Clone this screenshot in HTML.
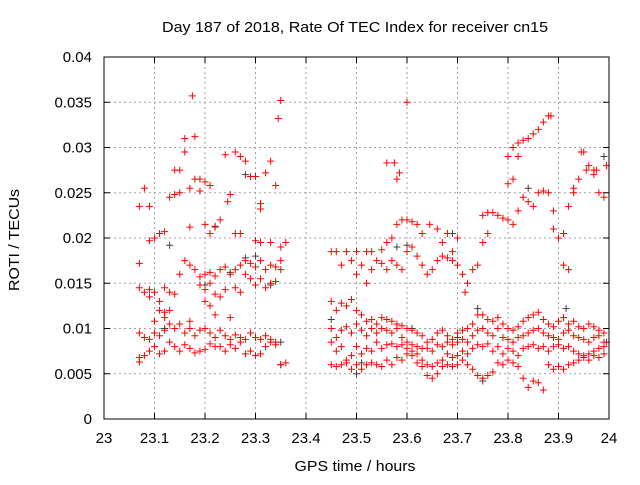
<!DOCTYPE html>
<html><head><meta charset="utf-8"><style>
body{margin:0;background:#fff;}
svg text{font-family:"Liberation Sans",sans-serif;font-size:15px;fill:#000;}
</style></head><body>
<svg id="chart" width="640" height="480">
<text x="355" y="32" text-anchor="middle" textLength="386" lengthAdjust="spacingAndGlyphs">Day 187 of 2018, Rate Of TEC Index for receiver cn15</text>
<g id="grid"></g><g id="ticks"></g><g id="marks"></g>
<rect x="104" y="57" width="505" height="362" fill="none" stroke="#000" stroke-width="1"/>
<text x="355" y="471" text-anchor="middle" textLength="121" lengthAdjust="spacingAndGlyphs">GPS time / hours</text>
<text transform="translate(19,240) rotate(-90)" text-anchor="middle" textLength="102" lengthAdjust="spacingAndGlyphs">ROTI / TECUs</text>
</svg>
<script>
const xTicks=[23,23.1,23.2,23.3,23.4,23.5,23.6,23.7,23.8,23.9,24];
const xTickLabels=["23","23.1","23.2","23.3","23.4","23.5","23.6","23.7","23.8","23.9","24"];
const yTicks=[0,0.005,0.01,0.015,0.02,0.025,0.03,0.035,0.04];
const yTickLabels=["0","0.005","0.01","0.015","0.02","0.025","0.03","0.035","0.04"];
const redA=[[23.07,0.0235],[23.08,0.0255],[23.09,0.0235],[23.07,0.0172],[23.09,0.0197],[23.10,0.0200],[23.11,0.0205],[23.12,0.0207],[23.13,0.0245],[23.14,0.0275],[23.14,0.0248],[23.15,0.0275],[23.15,0.0250],[23.16,0.0295],[23.16,0.031],[23.17,0.0212],[23.17,0.0255],[23.18,0.0312],[23.18,0.0265],[23.175,0.0357],[23.19,0.0265],[23.19,0.0252],[23.20,0.0262],[23.20,0.0215],[23.21,0.0258],[23.21,0.0205],[23.22,0.0212],[23.23,0.0220],[23.24,0.0292],[23.245,0.0240],[23.25,0.0248],[23.26,0.0295],[23.26,0.0205],[23.27,0.0290],[23.27,0.0205],[23.28,0.0285],[23.29,0.0268],[23.30,0.0268],[23.31,0.0232],[23.31,0.0238],[23.32,0.0272],[23.33,0.0285],[23.34,0.0258],[23.345,0.0332],[23.35,0.0352],[23.30,0.0197],[23.31,0.0195],[23.33,0.0195],[23.35,0.0190],[23.36,0.0195]];
const redB=[[23.07,0.0145],[23.08,0.0140],[23.09,0.0143],[23.09,0.0135],[23.10,0.0140],[23.11,0.0130],[23.12,0.0145],[23.13,0.0140],[23.14,0.0138],[23.15,0.0160],[23.16,0.0175],[23.17,0.0170],[23.18,0.0165],[23.19,0.0157],[23.20,0.0160],[23.21,0.0162],[23.22,0.0158],[23.23,0.0165],[23.24,0.0168],[23.25,0.0160],[23.26,0.0165],[23.27,0.0170],[23.28,0.0175],[23.29,0.0172],[23.30,0.0168],[23.31,0.0175],[23.32,0.0165],[23.33,0.0170],[23.34,0.0168],[23.35,0.0165],[23.35,0.0175],[23.19,0.0148],[23.20,0.0143],[23.21,0.0150],[23.22,0.0138],[23.23,0.0135],[23.24,0.0143],[23.26,0.0145],[23.27,0.0140],[23.28,0.0160],[23.29,0.0155],[23.30,0.0148],[23.31,0.0155],[23.32,0.0145],[23.33,0.0150],[23.34,0.0152],[23.11,0.0120],[23.12,0.0118],[23.13,0.0120],[23.20,0.0130],[23.21,0.0125]];
const redC=[[23.07,0.0068],[23.07,0.0063],[23.08,0.0070],[23.09,0.0075],[23.10,0.0080],[23.11,0.0072],[23.12,0.0075],[23.13,0.0085],[23.14,0.0080],[23.15,0.0075],[23.16,0.0082],[23.17,0.0078],[23.18,0.0073],[23.19,0.0075],[23.20,0.0077],[23.21,0.0083],[23.22,0.0080],[23.23,0.0080],[23.24,0.0075],[23.25,0.0082],[23.26,0.0078],[23.27,0.0085],[23.28,0.0072],[23.29,0.0075],[23.30,0.0070],[23.31,0.0072],[23.32,0.0080],[23.33,0.0085],[23.34,0.0082],[23.35,0.0060],[23.36,0.0062],[23.08,0.0090],[23.09,0.0088],[23.10,0.0095],[23.11,0.0092],[23.12,0.0098],[23.13,0.0105],[23.14,0.0100],[23.15,0.0105],[23.16,0.0095],[23.17,0.0100],[23.18,0.0092],[23.19,0.0098],[23.20,0.0100],[23.21,0.0095],[23.22,0.0090],[23.23,0.0098],[23.24,0.0092],[23.25,0.0088],[23.26,0.0093],[23.27,0.0090],[23.28,0.0088],[23.29,0.0095],[23.30,0.0090],[23.31,0.0088],[23.32,0.0092],[23.33,0.0088],[23.34,0.0085],[23.07,0.0095],[23.10,0.0108],[23.12,0.0112],[23.17,0.0108],[23.22,0.0115],[23.25,0.0112]];
const redD=[[23.56,0.0283],[23.575,0.0283],[23.58,0.0265],[23.585,0.0272],[23.60,0.0350],[23.50,0.0185],[23.52,0.0185],[23.53,0.0185],[23.55,0.0187],[23.56,0.0195],[23.57,0.0200],[23.58,0.0215],[23.59,0.0220],[23.60,0.0220],[23.61,0.0218],[23.62,0.0215],[23.63,0.0205],[23.645,0.0215],[23.66,0.0210],[23.67,0.0195],[23.68,0.0205],[23.69,0.0185],[23.70,0.0200],[23.45,0.0185],[23.46,0.0185],[23.47,0.0170],[23.48,0.0185],[23.49,0.0175],[23.50,0.0160],[23.51,0.0170],[23.52,0.0150],[23.53,0.0165],[23.54,0.0175],[23.55,0.0172],[23.56,0.0165],[23.57,0.0175],[23.58,0.0170],[23.59,0.0165],[23.60,0.0185],[23.61,0.0190],[23.62,0.0180],[23.63,0.0170],[23.64,0.0160],[23.65,0.0165],[23.66,0.0175],[23.67,0.0180],[23.68,0.0178],[23.69,0.0175],[23.70,0.0170],[23.71,0.0160],[23.715,0.0140],[23.72,0.0150],[23.73,0.0165],[23.74,0.0170],[23.75,0.0195],[23.76,0.0205],[23.75,0.0225],[23.76,0.0228],[23.77,0.0228],[23.78,0.0225],[23.79,0.0222],[23.80,0.0290],[23.81,0.0300],[23.82,0.0305],[23.83,0.0308],[23.84,0.0310],[23.85,0.0315],[23.86,0.0320],[23.87,0.0328],[23.88,0.0335],[23.885,0.0335],[23.80,0.0260],[23.81,0.0265],[23.82,0.0290],[23.80,0.0220],[23.81,0.0215],[23.82,0.0230],[23.83,0.0245],[23.84,0.0240],[23.85,0.0235],[23.86,0.0250],[23.87,0.0252],[23.88,0.0250],[23.89,0.0230],[23.89,0.0210],[23.90,0.0200],[23.91,0.0205],[23.91,0.0170],[23.92,0.0165],[23.92,0.0235],[23.93,0.0255],[23.94,0.0265],[23.945,0.0295],[23.95,0.0295],[23.955,0.0275],[23.96,0.0280],[23.97,0.0275],[23.975,0.0275],[23.98,0.0250],[23.99,0.0245],[23.995,0.0280],[23.93,0.0250],[23.97,0.0270]];
const lowX=[23.45,23.46,23.47,23.48,23.49,23.50,23.51,23.52,23.53,23.54,23.55,23.56,23.57,23.58,23.59,23.60,23.61,23.62,23.63,23.64,23.65,23.66,23.67,23.68,23.69,23.70,23.71,23.72,23.73,23.74,23.75,23.76,23.77,23.78,23.79,23.80,23.81,23.82,23.83,23.84,23.85,23.86,23.87,23.88,23.89,23.90,23.91,23.92,23.93,23.94,23.95,23.96,23.97,23.98,23.99];
const lowY=[[0.013,0.010,0.0085,0.006],[0.012,0.009,0.0075,0.0058],[0.0128,0.0098,0.008,0.006],[0.0125,0.0102,0.0065,0.0062],[0.0132,0.0095,0.007,0.0055],[0.0120,0.0105,0.008,0.006],[0.0115,0.0098,0.0072,0.0055],[0.0108,0.0092,0.0078,0.006],[0.0110,0.0100,0.0075,0.0062],[0.0105,0.0095,0.0085,0.006],[0.0112,0.0100,0.0078,0.0058],[0.0110,0.0098,0.0082,0.0065],[0.0108,0.0095,0.0083,0.006],[0.0105,0.0100,0.0080,0.0068],[0.0103,0.0090,0.0082,0.0065],[0.0100,0.0085,0.0078,0.0072],[0.0098,0.0082,0.0075,0.007],[0.0095,0.0080,0.0072,0.0062],[0.0092,0.0078,0.0065,0.0058],[0.0085,0.0078,0.006,0.0048],[0.0088,0.0075,0.0058,0.0045],[0.0095,0.0082,0.0062,0.005],[0.0098,0.0080,0.0065,0.0058],[0.0092,0.0085,0.0072,0.006],[0.0088,0.0082,0.0068,0.0058],[0.0095,0.0085,0.0070,0.006],[0.0098,0.0088,0.0075,0.0065],[0.0100,0.0085,0.0072,0.006],[0.0105,0.0092,0.0078,0.0055],[0.0115,0.0098,0.0082,0.0048],[0.0115,0.0100,0.0080,0.0045],[0.0110,0.0095,0.0083,0.0048],[0.0108,0.0092,0.0075,0.0052],[0.0112,0.0100,0.0080,0.0062],[0.0105,0.0090,0.0072,0.006],[0.0100,0.0088,0.0078,0.0065],[0.0098,0.0085,0.0075,0.0062],[0.0102,0.0090,0.0070,0.0058],[0.0108,0.0092,0.0078,0.0045],[0.0112,0.0095,0.0080,0.0035],[0.0115,0.0098,0.0082,0.0042],[0.0118,0.0100,0.0078,0.0040],[0.0110,0.0095,0.0080,0.0032],[0.0105,0.0092,0.0075,0.006],[0.0102,0.0090,0.0080,0.0055],[0.0108,0.0088,0.0082,0.0058],[0.0112,0.0095,0.0078,0.0055],[0.0105,0.0098,0.0080,0.006],[0.0108,0.0092,0.0075,0.0062],[0.0102,0.0090,0.0072,0.0065],[0.0100,0.0088,0.0070,0.0068],[0.0105,0.0085,0.0072,0.0065],[0.0102,0.0090,0.0075,0.007],[0.0098,0.0092,0.0078,0.0068],[0.0095,0.0085,0.0080,0.0072]];
const greyPts=[[23.13,0.0192],[23.20,0.0148],[23.22,0.0213],[23.28,0.0178],[23.30,0.0180],[23.28,0.0270],[23.35,0.0060],[23.35,0.0085],[23.45,0.0110],[23.50,0.0050],[23.51,0.0062],[23.58,0.0190],[23.60,0.0192],[23.61,0.0100],[23.69,0.0205],[23.70,0.0090],[23.74,0.0122],[23.75,0.0042],[23.84,0.0255],[23.91,0.0205],[23.915,0.0122],[23.99,0.0290],[23.995,0.0085],[23.12,0.0100],[23.25,0.0162],[23.33,0.0148]];

const X0=104,X1=609,Y0=419,Y1=57;
function sx(v){return X0+(v-23)*(X1-X0)/1;}
function sy(v){return Y0-v*(Y0-Y1)/0.04;}
const NS="http://www.w3.org/2000/svg";
function mk(tag,attrs,parent){const e=document.createElementNS(NS,tag);for(const k in attrs)e.setAttribute(k,attrs[k]);parent.appendChild(e);return e;}
const grid=document.getElementById('grid'),ticks=document.getElementById('ticks'),marks=document.getElementById('marks');
xTicks.forEach((t,i)=>{const x=sx(t);
 if(i>0&&i<xTicks.length-1){const g=mk('line',{x1:x,x2:x,y1:Y1,y2:Y0,stroke:'#a0a0a0','stroke-dasharray':'2,3'},grid);
 
 }
 mk('line',{x1:x,x2:x,y1:Y0,y2:Y0-6,stroke:'#000'},ticks);mk('line',{x1:x,x2:x,y1:Y1,y2:Y1+6,stroke:'#000'},ticks);
 const tx=mk('text',{x:x,y:443,'text-anchor':'middle'},ticks);tx.textContent=xTickLabels[i];
 
 });
yTicks.forEach((t,i)=>{const y=sy(t);
 if(i>0&&i<yTicks.length-1){const g=mk('line',{x1:X0,x2:X1,y1:y,y2:y,stroke:'#a0a0a0','stroke-dasharray':'2,3'},grid);
 
 }
 mk('line',{x1:X0,x2:X0+6,y1:y,y2:y,stroke:'#000'},ticks);mk('line',{x1:X1,x2:X1-6,y1:y,y2:y,stroke:'#000'},ticks);
 const tx=mk('text',{x:92,y:y+5,'text-anchor':'end'},ticks);tx.textContent=yTickLabels[i];
 
 });
function plus(x,y,col,name){const p=mk('path',{d:`M${sx(x)-3.5},${sy(y)}h7M${sx(x)},${sy(y)-3.5}v7`,stroke:col,'stroke-width':1,fill:'none'},marks);
 
 }
greyPts.forEach(p=>plus(p[0],p[1],'#404040','grey-point'));
[redA,redB,redC,redD].forEach(arr=>arr.forEach(p=>plus(p[0],p[1],'#ff0000','red-point')));
lowX.forEach((x,i)=>lowY[i].forEach(y=>plus(x,y,'#ff0000','red-point')));
</script>
</body></html>
